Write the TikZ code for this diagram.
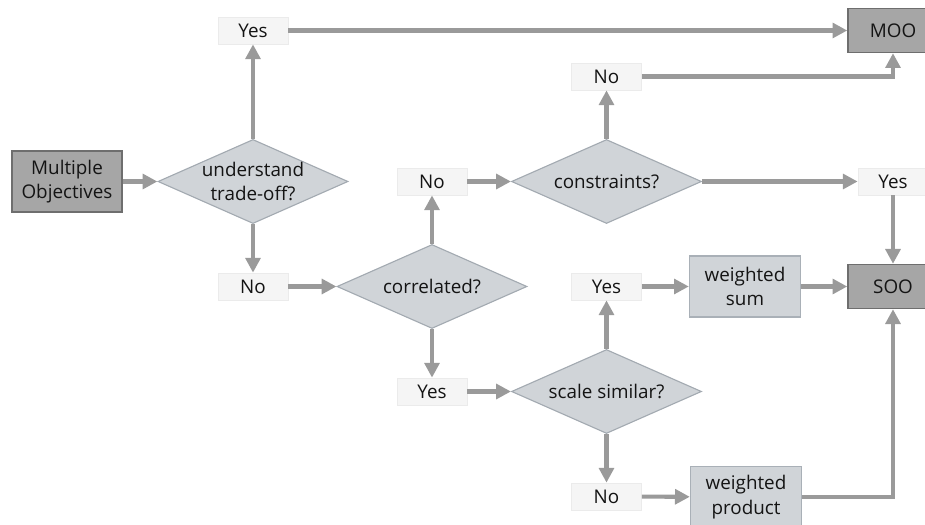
\documentclass[tikz,border=0pt]{standalone}
\usepackage{fontspec}
\setmainfont{Open Sans}
\usetikzlibrary{shapes.geometric,arrows.meta}

\definecolor{arrowgray}{HTML}{9A9A9A}
\definecolor{ansfill}{HTML}{F5F5F5}
\definecolor{ansline}{HTML}{EBEBEB}
\definecolor{decfill}{HTML}{D0D4D8}
\definecolor{decline}{HTML}{A3AAB1}
\definecolor{resfill}{HTML}{A6A6A6}
\definecolor{resline}{HTML}{6E6E6E}
\definecolor{wfill}{HTML}{D0D4D8}
\definecolor{wline}{HTML}{A9B0B7}

\begin{document}
\begin{tikzpicture}[
    font=\fontsize{13.4}{17.3}\selectfont,
    every node/.style={text=black!92,align=center,inner sep=0pt},
    ans/.style={fill=ansfill,draw=ansline,line width=0.5pt,
                minimum width=1.75cm,minimum height=0.675cm},
    dec/.style={diamond,fill=decfill,draw=decline,line width=0.8pt,
                shape aspect=2.26,minimum width=4.75cm,minimum height=2.1cm},
    res/.style={fill=resfill,draw=resline,line width=1pt,
                minimum width=2.25cm,minimum height=1.1cm},
    wbox/.style={fill=wfill,draw=wline,line width=1pt,
                 minimum width=2.775cm,minimum height=1.525cm},
    flow/.style={draw=arrowgray,line width=2.9pt,
                 -{Triangle[length=0.37cm,width=0.37cm]}}]
  \useasboundingbox (0,0) rectangle (23.125,13.1);
  \node[res,minimum width=2.75cm,minimum height=1.525cm]
                       (MO)   at (1.675,8.5625)   {Multiple\\Objectives};
  \node[dec]           (U)    at (6.325,8.5625)   {understand\\trade-off?};
  \node[ans]           (Y1)   at (6.325,12.3375)  {Yes};
  \node[ans]           (N1)   at (6.325,5.9375)   {No};
  \node[res]           (MOO)  at (22.325,12.3375) {MOO};
  \node[dec]           (C)    at (10.8,5.9375)    {correlated?};
  \node[ans]           (N2)   at (10.8,8.5625)    {No};
  \node[ans]           (Y4)   at (10.8,3.3125)    {Yes};
  \node[dec]           (K)    at (15.1625,8.5625) {constraints?};
  \node[ans]           (N3)   at (15.1625,11.1875) {No};
  \node[ans]           (Y2)   at (22.325,8.5625)  {Yes};
  \node[dec]           (S)    at (15.1625,3.3125) {scale similar?};
  \node[ans]           (Y3)   at (15.1625,5.9375) {Yes};
  \node[ans]           (N4)   at (15.1625,0.6875) {No};
  \node[wbox]          (WS)   at (18.625,5.9375)  {weighted\\sum};
  \node[wbox]          (WP)   at (18.65,0.675)    {weighted\\product};
  \node[res]           (SOO)  at (22.325,5.9375)  {SOO};
  % first question
  \draw[flow] (MO)  -- (U);
  \draw[flow] (U)   -- (Y1);
  \draw[flow] (U)   -- (N1);
  \draw[flow] (Y1)  -- (MOO);
  \draw[flow] (N1)  -- (C);
  % correlated objectives
  \draw[flow] (C)   -- (N2);
  \draw[flow] (C)   -- (Y4);
  \draw[flow] (N2)  -- (K);
  \draw[flow] (K)   -- (N3);
  \draw[flow] (K)   -- (Y2);
  \draw[flow] (N3)  -| (MOO);
  \draw[flow] (Y2)  -- (SOO);
  % scale of the objectives
  \draw[flow] (Y4)  -- (S);
  \draw[flow] (S)   -- (Y3);
  \draw[flow] (S)   -- (N4);
  \draw[flow] (Y3)  -- (WS);
  \draw[flow] (N4)  -- (WP);
  \draw[flow] (WS)  -- (SOO);
  \draw[flow] (WP)  -| (SOO);
\end{tikzpicture}
\end{document}
